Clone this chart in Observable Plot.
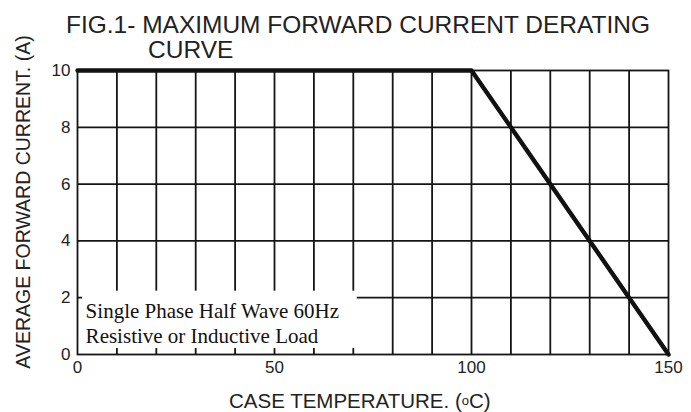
<!DOCTYPE html>
<html>
<head>
<meta charset="utf-8">
<script src="https://cdn.jsdelivr.net/npm/d3@7"></script>
<script src="https://cdn.jsdelivr.net/npm/@observablehq/plot@0.6"></script>
<style>
  html, body { margin: 0; padding: 0; background: #fff; }
  #chart { position: relative; width: 691px; height: 412px; }
</style>
</head>
<body>
<div id="chart"></div>
<script>
// Derating curve: case temperature (°C) vs average forward current (A)
const caseTemp = [0, 100, 150];
const current = [10, 10, 0];

const xTicks = [0, 50, 100, 150];
const yTicks = [0, 2, 4, 6, 8, 10];
const xGrid = [10, 20, 30, 40, 50, 60, 70, 80, 90, 100, 110, 120, 130, 140];
const yGrid = [2, 4, 6, 8];

const titleLines = ["FIG.1- MAXIMUM FORWARD CURRENT DERATING", "CURVE"];
const xLabelParts = ["CASE TEMPERATURE. (", "o", "C)"];
const yLabel = "AVERAGE FORWARD CURRENT. (A)";
const noteLines = ["Single Phase Half Wave 60Hz", "Resistive or Inductive Load"];
// annotation box extent (data units)
const noteBoxX = [1.3, 71];
const noteBoxY = [0.21, 2.23];

const curve = caseTemp.map((t, i) => ({t, a: current[i]}));

const sans = "'Liberation Sans', Arial, Helvetica, sans-serif";
const serif = "'Liberation Serif', 'Times New Roman', serif";

const plot = Plot.plot({
  width: 691,
  height: 412,
  marginLeft: 77,
  marginRight: 23,
  marginTop: 70,
  marginBottom: 58,
  style: {fontFamily: sans, color: "#222", background: "#fff"},
  x: {domain: [0, 150], label: null},
  y: {domain: [0, 10], label: null},
  marks: [
    Plot.ruleX(xGrid, {stroke: "#151515", strokeWidth: 1.8}),
    Plot.ruleY(yGrid, {stroke: "#151515", strokeWidth: 1.8}),
    Plot.rect([{x1: noteBoxX[0], x2: noteBoxX[1], y1: noteBoxY[0], y2: noteBoxY[1]}],
      {x1: "x1", x2: "x2", y1: "y1", y2: "y2", fill: "#fff"}),
    Plot.frame({stroke: "#151515", strokeWidth: 1.8}),
    Plot.axisX(xTicks, {tickSize: 0, tickPadding: 6, fontSize: 17, fill: "#222"}),
    Plot.axisY(yTicks, {tickSize: 0, tickPadding: 7, fontSize: 17, fill: "#222"}),
    Plot.line(curve, {x: "t", y: "a", stroke: "#111", strokeWidth: 4.4}),
    Plot.text([noteLines.join("\n")], {
      x: noteBoxX[0], y: noteBoxY[1], text: d => d, textAnchor: "start", lineAnchor: "top",
      dx: 3, dy: 9, fontSize: 21, lineHeight: 1.19,
      fontFamily: serif, fill: "#111"
    })
  ]
});

const svg = d3.select(plot);
svg.attr("width", 691).attr("height", 412).style("overflow", "visible");

// titles and axis labels as SVG text
svg.append("text").attr("x", 66).attr("y", 33).attr("text-anchor", "start")
  .attr("font-family", sans).attr("font-size", 24.5).attr("fill", "#222")
  .attr("textLength", 584).attr("lengthAdjust", "spacingAndGlyphs").text(titleLines[0]);
svg.append("text").attr("x", 148).attr("y", 58).attr("text-anchor", "start")
  .attr("font-family", sans).attr("font-size", 24.5).attr("fill", "#222").text(titleLines[1]);
svg.append("text").attr("transform", "translate(30,202) rotate(-90)").attr("text-anchor", "middle")
  .attr("font-family", sans).attr("font-size", 19.5).attr("fill", "#222").text(yLabel);
const xl = svg.append("text").attr("x", 229).attr("y", 408).attr("text-anchor", "start")
  .attr("font-family", sans).attr("font-size", 20.5).attr("fill", "#222");
xl.append("tspan").text(xLabelParts[0]);
xl.append("tspan").attr("font-size", 13).attr("dy", -3).text(xLabelParts[1]);
xl.append("tspan").attr("dy", 3).text(xLabelParts[2]);

document.getElementById("chart").appendChild(plot);
</script>
</body>
</html>
